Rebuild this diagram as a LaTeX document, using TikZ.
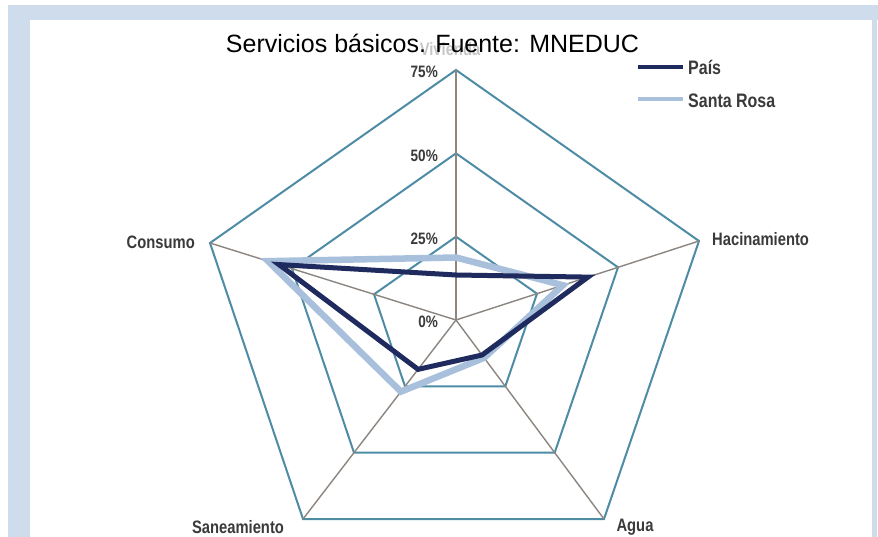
\documentclass[tikz,border=0pt]{standalone}
\usepackage{fontspec}
\setmainfont{Liberation Sans}
\newfontfamily\labfont[FakeStretch=0.82]{Liberation Sans}
\usetikzlibrary{calc}
\definecolor{framec}{HTML}{CFDCEC}
\definecolor{gridc}{HTML}{4E8CA6}
\definecolor{spokec}{HTML}{8C8580}
\definecolor{paisc}{HTML}{1F2A5E}
\definecolor{srosac}{HTML}{A8C0DC}
\definecolor{labc}{HTML}{3A3A3A}
\tikzset{
  gridline/.style={draw=gridc, line width=2pt, line join=miter},
  spoke/.style={draw=spokec, line width=1.4pt},
  paisline/.style={draw=paisc, line width=5pt, line join=miter},
  srosaline/.style={draw=srosac, line width=6.5pt, line join=miter},
  axlab/.style={inner sep=0pt, text=labc, font=\labfont\bfseries\fontsize{18}{18}\selectfont},
  leglab/.style={inner sep=0pt, text=labc, font=\labfont\bfseries\fontsize{19.5}{19.5}\selectfont},
  pctlab/.style={inner sep=0pt, anchor=east, text=labc, font=\labfont\bfseries\fontsize{16.5}{16.5}\selectfont},
}
\begin{document}
\begin{tikzpicture}[x=1pt,y=-1pt]
\useasboundingbox (0,0) rectangle (878,537);
\fill[white] (0,0) rectangle (878,537);
% frame
\fill[framec] (8,5) rectangle (878,20);
\fill[framec] (8,5) rectangle (30,537);
\fill[framec] (872,20) rectangle (877,537);
% geometry
\coordinate (O) at (456,320);
\coordinate (V) at (456,70);
\coordinate (H) at (699,241);
\coordinate (A) at (604,519);
\coordinate (S) at (303,519);
\coordinate (C) at (210,243);
% grid
\foreach \f in {0.3333,0.6667,1}
  \draw[gridline] ($(O)!\f!(V)$) -- ($(O)!\f!(H)$) -- ($(O)!\f!(A)$) -- ($(O)!\f!(S)$) -- ($(O)!\f!(C)$) -- cycle;
\foreach \p in {V,H,A,S,C}
  \draw[spoke] (O) -- (\p);
% data
\draw[srosaline] ($(O)!0.25!(V)$) -- ($(O)!0.44!(H)$) -- ($(O)!0.19!(A)$) -- ($(O)!0.36!(S)$) -- ($(O)!0.764!(C)$) -- cycle;
\draw[paisline] ($(O)!0.18!(V)$) -- ($(O)!0.543!(H)$) -- ($(O)!0.176!(A)$) -- ($(O)!0.248!(S)$) -- ($(O)!0.72!(C)$) -- cycle;
% axis labels
\node[axlab, text=gray!45] (lV) at (450,49) {Vivienda};
\node[axlab, anchor=east] (lC) at (195,242) {Consumo};
\node[axlab, anchor=west] (lH) at (712,239) {Hacinamiento};
\node[axlab] (lS) at (238,527) {Saneamiento};
\node[axlab] (lA) at (635,527) {Agua};
% percentages
\node[pctlab] (p75) at (438,72) {75\%};
\node[pctlab] (p50) at (438,156) {50\%};
\node[pctlab] (p25) at (438,239) {25\%};
\node[pctlab] (p0) at (438,322) {0\%};
% title (drawn over the top axis label)
\node[inner sep=0pt, anchor=base, font=\fontsize{25}{25}\selectfont] (title) at (432.5,53) {Servicios básicos. Fuente: MNEDUC};
% legend
\coordinate (lp1) at (638,67.5);
\coordinate (lp2) at (683,67.5);
\coordinate (ls1) at (638,99);
\coordinate (ls2) at (683,99);
\draw[draw=paisc, line width=4pt] (lp1) -- (lp2);
\draw[draw=srosac, line width=4pt] (ls1) -- (ls2);
\node[leglab, anchor=west] (lP) at (688,67) {País};
\node[leglab, anchor=west] (lR) at (688,101) {Santa Rosa};
\end{tikzpicture}
\end{document}
